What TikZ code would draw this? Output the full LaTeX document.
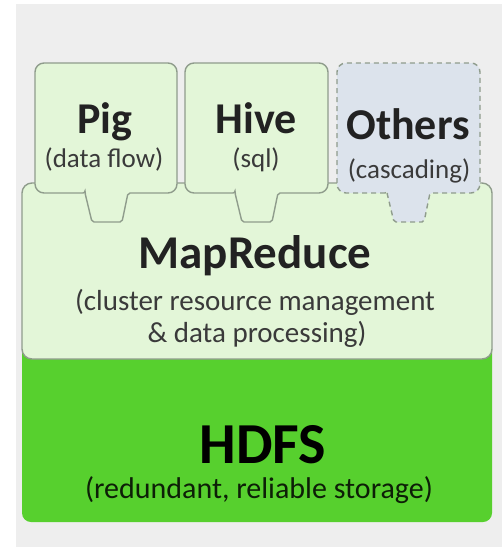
\documentclass[tikz,border=0pt]{standalone}
\usepackage{fontspec}
\setmainfont{Carlito}
\definecolor{panel}{HTML}{EEEEEE}
\definecolor{lgreen}{HTML}{E3F6D8}
\definecolor{lblue}{HTML}{DCE3EC}
\definecolor{hgreen}{HTML}{57D02E}
\definecolor{edge}{HTML}{8F9C8C}
\definecolor{txt}{HTML}{222222}
\definecolor{subtxt}{HTML}{3A3A3A}
\tikzset{
  boxline/.style={draw=edge, line width=1.4pt, fill=lgreen},
  dashline/.style={draw=edge, line width=1.4pt, fill=lblue, dash pattern=on 5pt off 4pt},
  ttl/.style={anchor=base, inner sep=0pt, text=txt, font=\fontsize{44}{48}\selectfont\bfseries},
  sub/.style={anchor=base, inner sep=0pt, text=subtxt, font=\fontsize{27}{30}\selectfont},
}
\begin{document}
\begin{tikzpicture}[x=1pt,y=-1pt]
\useasboundingbox (0,0) rectangle (502,549);
\fill[white] (0,0) rectangle (502,549);
\fill[panel] (16,4) rectangle (502,547);
% HDFS
\fill[hgreen, rounded corners=9pt] (22,340) rectangle (492,522);
% MapReduce
\draw[boxline, rounded corners=10pt] (22,183) rectangle (492,359);
% Pig
\draw[boxline] (85,193) [rounded corners=9pt] -- (35,193) -- (35,63) -- (177,63) -- (177,193) [rounded corners=2pt] -- (128,193) -- (122,222) -- (92,222) -- (85,193) -- cycle;
% Hive
\draw[boxline] (235,193) [rounded corners=9pt] -- (185,193) -- (185,63) -- (328,63) -- (328,193) [rounded corners=2pt] -- (278,193) -- (272,222) -- (242,222) -- (235,193) -- cycle;
% Others
\draw[dashline] (387,193) [rounded corners=9pt] -- (337,193) -- (337,63) -- (480,63) -- (480,193) [rounded corners=2pt] -- (430,193) -- (424,222) -- (394,222) -- (387,193) -- cycle;
% texts
\node[ttl] (pig) at (105,133) {Pig};
\node[sub] (pigs) at (104,167) {(data flow)};
\node[ttl] (hive) at (256,133) {Hive};
\node[sub] (hives) at (256,167) {(sql)};
\node[ttl] (oth) at (408,139) {Others};
\node[sub] (oths) at (409,178) {(cascading)};
\node[ttl, font=\fontsize{47}{50}\selectfont\bfseries] (mr) at (255,268) {MapReduce};
\node[sub, font=\fontsize{29}{32}\selectfont] (mr1) at (255,310) {(cluster resource management};
\node[sub, font=\fontsize{29}{32}\selectfont] (mr2) at (257,342) {\& data processing)};
\node[ttl, text=black, font=\fontsize{58}{60}\selectfont\bfseries] (hdfs) at (263,463) {HDFS};
\node[sub, text=black!85!hgreen, font=\fontsize{30}{32}\selectfont] (hdfss) at (259,498) {(redundant, reliable storage)};
\end{tikzpicture}
\end{document}
